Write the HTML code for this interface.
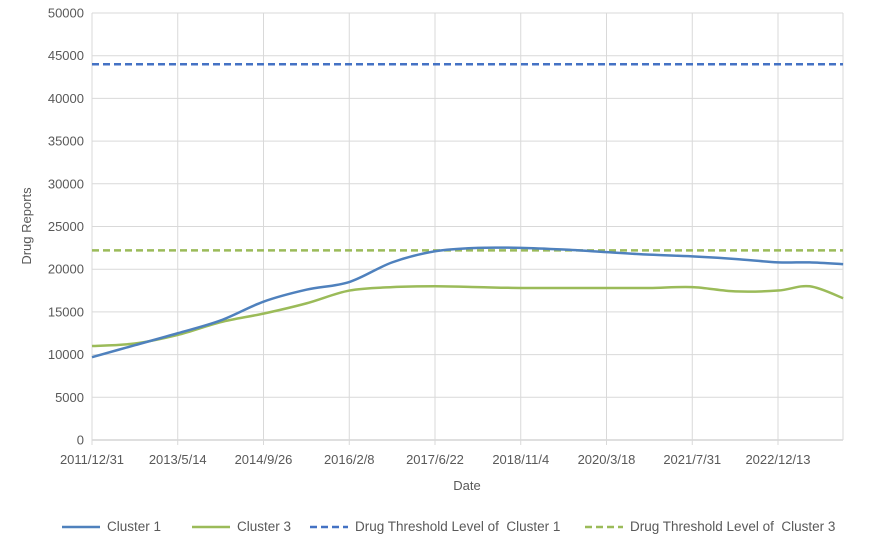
<!DOCTYPE html>
<html><head><meta charset="utf-8"><style>
body{margin:0;background:#fff;font-family:"Liberation Sans",sans-serif}
</style></head><body>
<svg id="chart" width="890" height="545" xmlns="http://www.w3.org/2000/svg" font-family="Liberation Sans, sans-serif" fill="#595959"></svg>
<script>
const xLabels=["2011/12/31","2013/5/14","2014/9/26","2016/2/8","2017/6/22","2018/11/4","2020/3/18","2021/7/31","2022/12/13"];
const yTicks=[0,5000,10000,15000,20000,25000,30000,35000,40000,45000,50000];
const tPos=[0,0.5,1,1.5,2,2.5,3,3.5,4,4.5,5,5.5,6,6.5,7,7.5,8,8.37,8.76];
const cluster1=[9700,11100,12500,14000,16200,17600,18500,20800,22100,22500,22500,22300,22000,21700,21500,21200,20800,20800,20600];
const cluster3=[11000,11300,12300,13800,14800,16000,17500,17900,18000,17900,17800,17800,17800,17800,17900,17400,17500,18000,16600];
const threshold1=44000, threshold3=22200;
const X0=92,X1=843,Y0=440,Y1=13,STEP=85.75;
const xs=t=>X0+t*STEP, ys=v=>Y0-(v/50000)*(Y0-Y1);
const svg=document.getElementById('chart');const NS="http://www.w3.org/2000/svg";
function mk(tag,attrs,parent){const e=document.createElementNS(NS,tag);for(const k in attrs)e.setAttribute(k,attrs[k]);(parent||svg).appendChild(e);return e;}
yTicks.forEach(v=>{const l=mk('line',{x1:X0,x2:X1,y1:ys(v),y2:ys(v),stroke:v===0?'#bfbfbf':'#d9d9d9','stroke-width':1});

const t=mk('text',{x:X0-8,y:ys(v)+4.5,'text-anchor':'end','font-size':13});t.textContent=v;
});
xLabels.forEach((s,i)=>{const l=mk('line',{x1:xs(i),x2:xs(i),y1:Y1,y2:Y0+5,stroke:'#d9d9d9','stroke-width':1});

const t=mk('text',{x:xs(i),y:Y0+24,'text-anchor':'middle','font-size':13});t.textContent=s;
});
const r=mk('line',{x1:X1,x2:X1,y1:Y1,y2:Y0,stroke:'#d9d9d9'});
function smooth(vals){const p=vals.map((v,i)=>[xs(tPos[i]),ys(v)]);let d=`M${p[0][0]},${p[0][1]}`;
for(let i=0;i<p.length-1;i++){const a=p[Math.max(0,i-1)],b=p[i],c=p[i+1],e=p[Math.min(p.length-1,i+2)];
d+=` C${b[0]+(c[0]-a[0])/6},${b[1]+(c[1]-a[1])/6} ${c[0]-(e[0]-b[0])/6},${c[1]-(e[1]-b[1])/6} ${c[0]},${c[1]}`;}return d;}
const th1=mk('line',{x1:X0,x2:X1,y1:ys(threshold1),y2:ys(threshold1),stroke:'#4472c4','stroke-width':2.5,'stroke-dasharray':'7,4'});

const th3=mk('line',{x1:X0,x2:X1,y1:ys(threshold3),y2:ys(threshold3),stroke:'#9bbb59','stroke-width':2.5,'stroke-dasharray':'7,4'});

const c3=mk('path',{d:smooth(cluster3),fill:'none',stroke:'#9bbb59','stroke-width':2.5});

const c1=mk('path',{d:smooth(cluster1),fill:'none',stroke:'#4f81bd','stroke-width':2.5});

const yt=mk('text',{x:31,y:226,'text-anchor':'middle','font-size':13,transform:'rotate(-90 31 226)'});yt.textContent='Drug Reports';

const xt=mk('text',{x:467,y:490,'text-anchor':'middle','font-size':13});xt.textContent='Date';

const leg=[["Cluster 1",'#4f81bd',0,62],["Cluster 3",'#9bbb59',0,192],["Drug Threshold Level of  Cluster 1",'#4472c4',1,310],["Drug Threshold Level of  Cluster 3",'#9bbb59',1,585]];
leg.forEach(([s,c,dash,x])=>{const g=mk('g',{});
const a={x1:x,x2:x+38,y1:527,y2:527,stroke:c,'stroke-width':2.5};if(dash)a['stroke-dasharray']='7,4';mk('line',a,g);
const t=mk('text',{x:x+45,y:531,'font-size':13.5},g);t.textContent=s;t.setAttribute('style','white-space:pre');});
</script>
</body></html>
